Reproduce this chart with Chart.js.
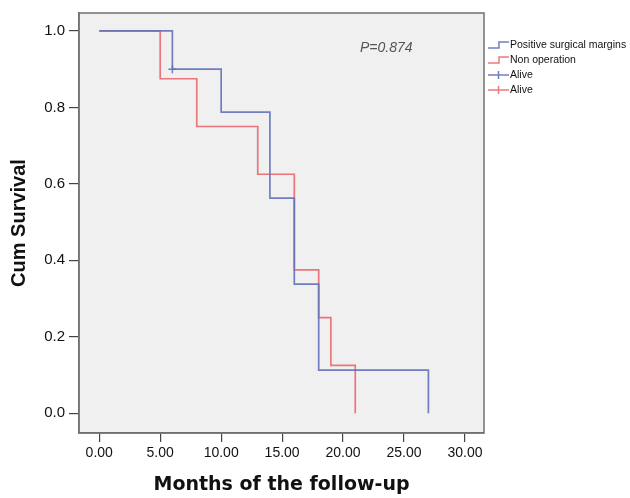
<!DOCTYPE html>
<html>
<head>
<meta charset="utf-8">
<script src="https://cdn.jsdelivr.net/npm/chart.js@4.4.1/dist/chart.umd.min.js"></script>
<style>
html,body{margin:0;padding:0;background:#fff;}
canvas{display:block;}
</style>
</head>
<body>
<canvas id="c" width="630" height="498"></canvas>
<script>
// ---- data ----
const blueTimes = [0, 6, 10, 14, 16, 18, 27];
const blueSurv  = [1.0, 0.9, 0.7875, 0.5625, 0.3375, 0.1125, 0.0];
const redTimes  = [0, 5, 8, 13, 16, 18, 19, 21];
const redSurv   = [1.0, 0.875, 0.75, 0.625, 0.375, 0.25, 0.125, 0.0];
const blueCensorTimes = [6];
const blueCensorSurv  = [0.9];
const redCensorTimes = [];
const redCensorSurv  = [];
const xTicks = [0, 5, 10, 15, 20, 25, 30];
const yTicks = [0, 0.2, 0.4, 0.6, 0.8, 1.0];
const legendLabels = ['Positive surgical margins', 'Non operation', 'Alive', 'Alive'];
const pText = 'P=0.874';
const xTitle = 'Months of the follow-up';
const yTitle = 'Cum Survival';

const BLUE = 'rgba(98,113,185,0.9)';
const RED = 'rgba(232,96,104,0.85)';

const pts = (xs, ys) => xs.map((x, i) => ({x: x, y: ys[i]}));

const bgPlugin = {
  id: 'bg',
  beforeDraw(chart) {
    const {ctx, chartArea: a} = chart;
    ctx.save();
    ctx.fillStyle = '#f0f0f0';
    ctx.fillRect(a.left, a.top, a.right - a.left, a.bottom - a.top);
    ctx.restore();
  },
  beforeDatasetsDraw(chart) {
    const {ctx, chartArea: a} = chart;
    ctx.save();
    ctx.strokeStyle = '#707070';
    ctx.lineWidth = 1.5;
    ctx.strokeRect(a.left, a.top, a.right - a.left, a.bottom - a.top);
    ctx.restore();
  },
  afterDraw(chart) {
    const {ctx, chartArea: a} = chart;
    ctx.save();
    // P value
    ctx.font = 'italic 14px "Liberation Sans", Arial, sans-serif';
    ctx.fillStyle = '#555';
    ctx.textBaseline = 'middle';
    ctx.textAlign = 'left';
    ctx.fillText(pText, 360, 48);
    // legend
    const colors = [BLUE, RED, BLUE, RED];
    const x0 = a.right + 4;
    ctx.font = '10.5px "Liberation Sans", Arial, sans-serif';
    legendLabels.forEach((lab, i) => {
      const y = 45 + i * 15;
      ctx.strokeStyle = colors[i];
      ctx.lineWidth = 1.5;
      ctx.beginPath();
      if (i < 2) {
        ctx.moveTo(x0, y + 3);
        ctx.lineTo(x0 + 11, y + 3);
        ctx.lineTo(x0 + 11, y - 3);
        ctx.lineTo(x0 + 21, y - 3);
      } else {
        ctx.moveTo(x0, y);
        ctx.lineTo(x0 + 21, y);
        ctx.moveTo(x0 + 10.5, y - 4);
        ctx.lineTo(x0 + 10.5, y + 4);
      }
      ctx.stroke();
      ctx.fillStyle = '#111';
      ctx.fillText(lab, x0 + 22, y);
    });
    ctx.restore();
  }
};

new Chart(document.getElementById('c'), {
  type: 'scatter',
  data: {
    datasets: [
      {label: legendLabels[0], data: pts(blueTimes, blueSurv), showLine: true, stepped: 'before',
       borderColor: BLUE, borderWidth: 1.7, pointRadius: 0, fill: false},
      {label: legendLabels[1], data: pts(redTimes, redSurv), showLine: true, stepped: 'before',
       borderColor: RED, borderWidth: 1.7, pointRadius: 0, fill: false},
      {label: legendLabels[2], data: pts(blueCensorTimes, blueCensorSurv), showLine: false,
       pointStyle: 'cross', pointRadius: 4, borderColor: BLUE, borderWidth: 1.5},
      {label: legendLabels[3], data: pts(redCensorTimes, redCensorSurv), showLine: false,
       pointStyle: 'cross', pointRadius: 4, borderColor: RED, borderWidth: 1.5}
    ]
  },
  options: {
    responsive: false,
    animation: false,
    devicePixelRatio: 1,
    layout: {padding: {left: 0, top: 13, right: 146, bottom: 0}},
    plugins: {legend: {display: false}, tooltip: {enabled: false}},
    scales: {
      x: {
        type: 'linear', min: -1.66, max: 31.56,
        afterFit(s) { s.height = 65; },
        afterBuildTicks(s) { s.ticks = xTicks.map(v => ({value: v})); },
        grid: {drawOnChartArea: false, drawTicks: true, tickLength: 9, color: '#444', lineWidth: 1.2},
        border: {display: true, color: '#707070', width: 1.5},
        ticks: {color: '#111', padding: 3, font: {family: '"Liberation Sans", Arial, sans-serif', size: 14},
                callback: v => Number(v).toFixed(2), maxRotation: 0, autoSkip: false},
        title: {display: true, text: xTitle, color: '#111', padding: {top: 0, bottom: 2},
                font: {family: '"DejaVu Sans", Verdana, sans-serif', size: 19, weight: 'bold'}}
      },
      y: {
        type: 'linear', min: -0.052, max: 1.047,
        afterFit(s) { s.width = 79; },
        afterBuildTicks(s) { s.ticks = yTicks.map(v => ({value: v})); },
        grid: {drawOnChartArea: false, drawTicks: true, tickLength: 10, color: '#444', lineWidth: 1.2},
        border: {display: true, color: '#707070', width: 1.5},
        ticks: {color: '#111', padding: 4, font: {family: '"Liberation Sans", Arial, sans-serif', size: 15},
                callback: v => Number(v).toFixed(1), autoSkip: false},
        title: {display: true, text: yTitle, color: '#111', padding: {top: 7, bottom: 0},
                font: {family: '"Liberation Sans", Arial, sans-serif', size: 20, weight: 'bold'}}
      }
    }
  },
  plugins: [bgPlugin]
});
</script>
</body>
</html>
